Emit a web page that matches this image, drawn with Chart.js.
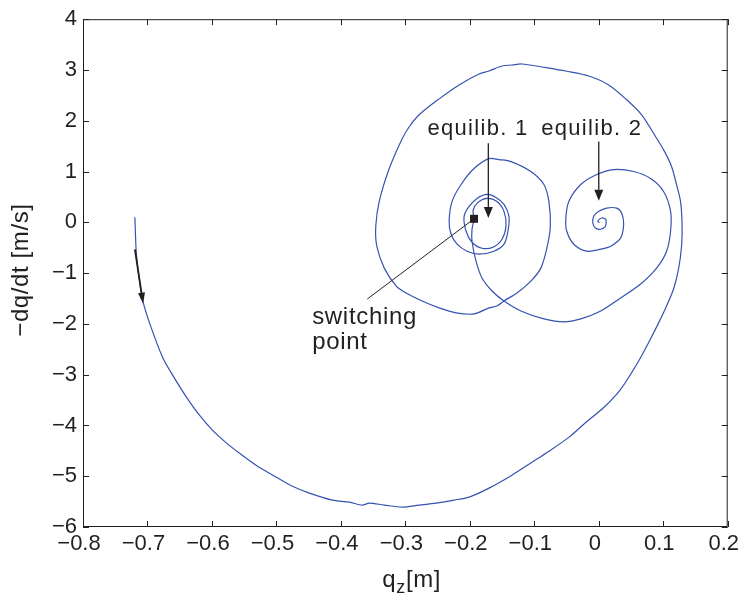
<!DOCTYPE html>
<html>
<head>
<meta charset="utf-8">
<script src="https://cdn.jsdelivr.net/npm/chart.js@4.4.1/dist/chart.umd.min.js"></script>
<style>
html,body{margin:0;padding:0;background:#ffffff;}
canvas{display:block;}
</style>
</head>
<body>
<canvas id="c" width="747" height="601"></canvas>
<script>
// ---- data: trajectory in the phase plane (q_z [m], -dq/dt [m/s]) ----
const qz = [
-0.7195,-0.7188,-0.7172,-0.7134,-0.7072,-0.6963,-0.6762,-0.6577,-0.6391,-0.6190,
-0.5989,-0.5787,-0.5571,-0.5292,-0.4998,-0.4751,-0.4488,-0.4132,-0.3869,-0.3668,
-0.3559,-0.3327,-0.3049,-0.2786,-0.2522,-0.2244,-0.2012,-0.1702,-0.1347,-0.1084,
-0.0821,-0.0465,-0.0202,0.0077,0.0324,0.0510,0.0665,0.0804,0.0928,0.1052,0.1160,
0.1237,0.1284,0.1292,0.1268,0.1206,0.1129,0.1021,0.0882,0.0665,0.0417,
0.0154,-0.0155,-0.0511,-0.0697,-0.0882,-0.1192,-0.1347,-0.1501,-0.1702,-0.1857,
-0.2167,-0.2476,-0.2786,-0.2940,-0.3049,-0.3250,-0.3405,-0.3459,-0.3443,-0.3327,
-0.3141,-0.2987,-0.2739,-0.2476,-0.2213,-0.1935,-0.1702,-0.1579,-0.1470,-0.1269,
-0.1053,-0.0898,-0.0805,-0.0751,-0.0774,-0.0851,-0.1053,-0.1362,-0.1548,-0.1702,
-0.1935,-0.2136,-0.2275,-0.2321,-0.2290,-0.2198,-0.2043,-0.1857,
-0.1625,-0.1470,-0.1409,-0.1393,-0.1470,-0.1594,-0.1733,-0.1888,-0.2012,-0.2089,
-0.2058,-0.1966,-0.1811,-0.1640,-0.1501,-0.1439,-0.1470,-0.1579,-0.1733,-0.1873,
-0.1950,-0.1935,
-0.1966,-0.1966,-0.1904,-0.1811,-0.1656,-0.1470,-0.1207,-0.0851,-0.0542,-0.0279,
0.0031,0.0340,0.0649,0.0897,0.1052,0.1114,0.1114,0.1005,0.0804,0.0541,
0.0232,-0.0031,-0.0279,-0.0465,-0.0511,-0.0496,-0.0387,-0.0186,0.0031,0.0185,
0.0340,0.0386,0.0355,0.0278,0.0123,0.0000,-0.0078,-0.0093,-0.0051,0.0026,
0.0103,0.0108,0.0046,-0.0016,0.0010
];
const velocity = [
0.098,-0.176,-0.627,-1.059,-1.549,-2.000,-2.667,-3.078,-3.451,-3.804,
-4.098,-4.333,-4.549,-4.804,-5.020,-5.196,-5.333,-5.471,-5.510,-5.569,
-5.529,-5.569,-5.608,-5.569,-5.529,-5.471,-5.412,-5.235,-4.980,-4.765,
-4.549,-4.235,-3.941,-3.647,-3.314,-2.961,-2.627,-2.294,-1.980,-1.647,-1.314,
-0.922,-0.471,-0.020,0.412,0.745,1.098,1.392,1.686,2.118,2.431,
2.706,2.882,2.980,3.020,3.059,3.118,3.098,3.078,2.980,2.922,
2.706,2.431,2.118,1.882,1.647,1.059,0.412,-0.078,-0.471,-0.902,
-1.255,-1.392,-1.549,-1.686,-1.784,-1.804,-1.686,-1.647,-1.549,-1.392,
-1.157,-0.902,-0.510,-0.078,0.412,0.745,1.000,1.196,1.235,1.255,
1.059,0.745,0.412,0.020,-0.235,-0.431,-0.569,-0.627,
-0.569,-0.431,-0.176,0.118,0.353,0.490,0.549,0.471,0.314,0.118,
-0.176,-0.392,-0.510,-0.490,-0.333,-0.078,0.216,0.412,0.471,0.392,
0.235,0.069,
-0.137,-0.373,-0.765,-1.098,-1.353,-1.549,-1.745,-1.902,-1.961,-1.902,
-1.745,-1.490,-1.216,-0.902,-0.569,-0.176,0.216,0.608,0.863,1.000,
1.039,0.941,0.745,0.412,0.078,-0.176,-0.431,-0.569,-0.529,-0.471,
-0.307,-0.039,0.182,0.280,0.280,0.216,0.118,-0.014,-0.111,-0.137,
-0.078,0.059,0.085,0.020,-0.010
];

// ---- axes ----
const xTickValues = [-0.8,-0.7,-0.6,-0.5,-0.4,-0.3,-0.2,-0.1,0,0.1,0.2];
const xTickLabels = ['\u22120.8','\u22120.7','\u22120.6','\u22120.5','\u22120.4','\u22120.3','\u22120.2','\u22120.1','0','0.1','0.2'];
const yTickValues = [-6,-5,-4,-3,-2,-1,0,1,2,3,4];
const yTickLabels = ['\u22126','\u22125','\u22124','\u22123','\u22122','\u22121','0','1','2','3','4'];
const xTitleMain = 'q';
const xTitleSub = 'z';
const xTitleUnit = '[m]';
const yTitle = '\u2212dq/dt [m/s]';

// ---- annotations (data coordinates) ----
const equilibLabels = ['equilib. 1', 'equilib. 2'];
const equilibLabelX = [-0.1873, -0.0109];
const equilibLabelY = [1.72, 1.72];
const equilibArrowX = [-0.1713, 0.0];
const equilibArrowFromY = [1.555, 1.59];
const equilibArrowToY = [0.085, 0.425];
const startArrowFrom = [-0.7195, -0.535];
const startArrowTo = [-0.7067, -1.602];
const switchingPoint = [-0.1935, 0.069];
const switchingLineFrom = [-0.359, -1.51];
const switchingLines = ['switching', 'point'];
const switchingLabelAt = [-0.4446, -2.006];

const FONT = "'Liberation Sans', Arial, Helvetica, sans-serif";
const INK = '#231f20';
const BLUE = '#3552b0';

const points = qz.map((v, i) => ({x: v, y: velocity[i]}));

function arrow(ctx, x0, y0, x1, y1, len, wid, lw) {
  const ang = Math.atan2(y1 - y0, x1 - x0);
  const bx = x1 - len * Math.cos(ang), by = y1 - len * Math.sin(ang);
  ctx.lineWidth = lw;
  ctx.beginPath(); ctx.moveTo(x0, y0); ctx.lineTo(bx, by); ctx.stroke();
  const px = -Math.sin(ang) * wid / 2, py = Math.cos(ang) * wid / 2;
  ctx.beginPath();
  ctx.moveTo(x1, y1); ctx.lineTo(bx + px, by + py); ctx.lineTo(bx - px, by - py);
  ctx.closePath(); ctx.fill();
}

const decor = {
  id: 'decor',
  afterDatasetsDraw(chart) {
    const {ctx, chartArea: a, scales: {x, y}} = chart;
    ctx.save();
    ctx.strokeStyle = INK; ctx.fillStyle = INK; ctx.lineWidth = 1;
    // frame
    ctx.strokeRect(a.left + 0.5, a.top + 0.5, a.right - a.left - 1, a.bottom - a.top - 1);
    // inward ticks on all four sides
    const T = 6;
    ctx.beginPath();
    xTickValues.forEach(v => {
      const p = Math.round(x.getPixelForValue(v)) + 0.5;
      ctx.moveTo(p, a.bottom); ctx.lineTo(p, a.bottom - T);
      ctx.moveTo(p, a.top); ctx.lineTo(p, a.top + T);
    });
    yTickValues.forEach(v => {
      const p = Math.round(y.getPixelForValue(v)) + 0.5;
      ctx.moveTo(a.left, p); ctx.lineTo(a.left + T, p);
      ctx.moveTo(a.right, p); ctx.lineTo(a.right - T, p);
    });
    ctx.stroke();

    // equilibrium arrows and labels
    ctx.font = '22px ' + FONT;
    ctx.textBaseline = 'alphabetic';
    ctx.textAlign = 'center';
    try { ctx.letterSpacing = '1.3px'; } catch (e) {}
    equilibLabels.forEach((t, i) => {
      ctx.fillText(t, x.getPixelForValue(equilibLabelX[i]), y.getPixelForValue(equilibLabelY[i]));
      const ax = x.getPixelForValue(equilibArrowX[i]);
      arrow(ctx, ax, y.getPixelForValue(equilibArrowFromY[i]), ax, y.getPixelForValue(equilibArrowToY[i]), 11, 9, 1.3);
    });

    // start arrow
    arrow(ctx, x.getPixelForValue(startArrowFrom[0]), y.getPixelForValue(startArrowFrom[1]),
               x.getPixelForValue(startArrowTo[0]), y.getPixelForValue(startArrowTo[1]), 11, 7, 1.8);

    // switching point
    const sx = x.getPixelForValue(switchingPoint[0]), sy = y.getPixelForValue(switchingPoint[1]);
    ctx.lineWidth = 1;
    ctx.beginPath();
    ctx.moveTo(x.getPixelForValue(switchingLineFrom[0]), y.getPixelForValue(switchingLineFrom[1]));
    ctx.lineTo(sx, sy); ctx.stroke();
    ctx.fillRect(sx - 4, sy - 4, 8, 8);
    ctx.font = '24px ' + FONT;
    ctx.textAlign = 'left';
    try { ctx.letterSpacing = '0.7px'; } catch (e) {}
    const lx = x.getPixelForValue(switchingLabelAt[0]), ly = y.getPixelForValue(switchingLabelAt[1]);
    switchingLines.forEach((t, i) => ctx.fillText(t, lx, ly + i * 25));

    // axis titles
    const cx = (a.left + a.right) / 2;
    try { ctx.letterSpacing = '0.6px'; } catch (e) {}
    ctx.font = '24px ' + FONT;
    let tx = cx - 23;
    const ty = a.bottom + 60;
    ctx.fillText(xTitleMain, tx, ty);
    tx += ctx.measureText(xTitleMain).width;
    ctx.font = '18px ' + FONT;
    ctx.fillText(xTitleSub, tx, ty + 6);
    tx += ctx.measureText(xTitleSub).width;
    ctx.font = '24px ' + FONT;
    ctx.fillText(xTitleUnit, tx, ty);

    ctx.translate(a.left - 61.5, (a.top + a.bottom) / 2 - 3);
    ctx.rotate(-Math.PI / 2);
    ctx.textAlign = 'center';
    ctx.textBaseline = 'middle';
    ctx.fillText(yTitle, 0, 0);
    ctx.restore();
  }
};

new Chart(document.getElementById('c'), {
  type: 'scatter',
  data: {
    datasets: [{
      data: points,
      showLine: true,
      borderColor: BLUE,
      borderWidth: 1.2,
      pointRadius: 0,
      tension: 0.3,
      fill: false
    }]
  },
  options: {
    responsive: false,
    animation: false,
    layout: {padding: {left: 0, right: 18, top: 17, bottom: 0}},
    plugins: {legend: {display: false}, tooltip: {enabled: false}},
    scales: {
      x: {
        type: 'linear', min: -0.8, max: 0.2,
        grid: {display: false, drawTicks: false},
        border: {display: false},
        afterBuildTicks: s => { s.ticks = xTickValues.map(v => ({value: v})); },
        afterFit: s => { s.height = 74; },
        ticks: {
          callback: (v, i) => xTickLabels[i],
          font: {family: FONT, size: 22}, color: INK,
          padding: 4, maxRotation: 0, autoSkip: false, labelOffset: -4
        }
      },
      y: {
        type: 'linear', min: -6, max: 4,
        grid: {display: false, drawTicks: false},
        border: {display: false},
        afterBuildTicks: s => { s.ticks = yTickValues.map(v => ({value: v})); },
        afterFit: s => { s.width = 83; },
        ticks: {
          callback: (v, i) => yTickLabels[i],
          font: {family: FONT, size: 22}, color: INK,
          padding: 6, autoSkip: false
        }
      }
    }
  },
  plugins: [decor]
});
</script>
</body>
</html>
